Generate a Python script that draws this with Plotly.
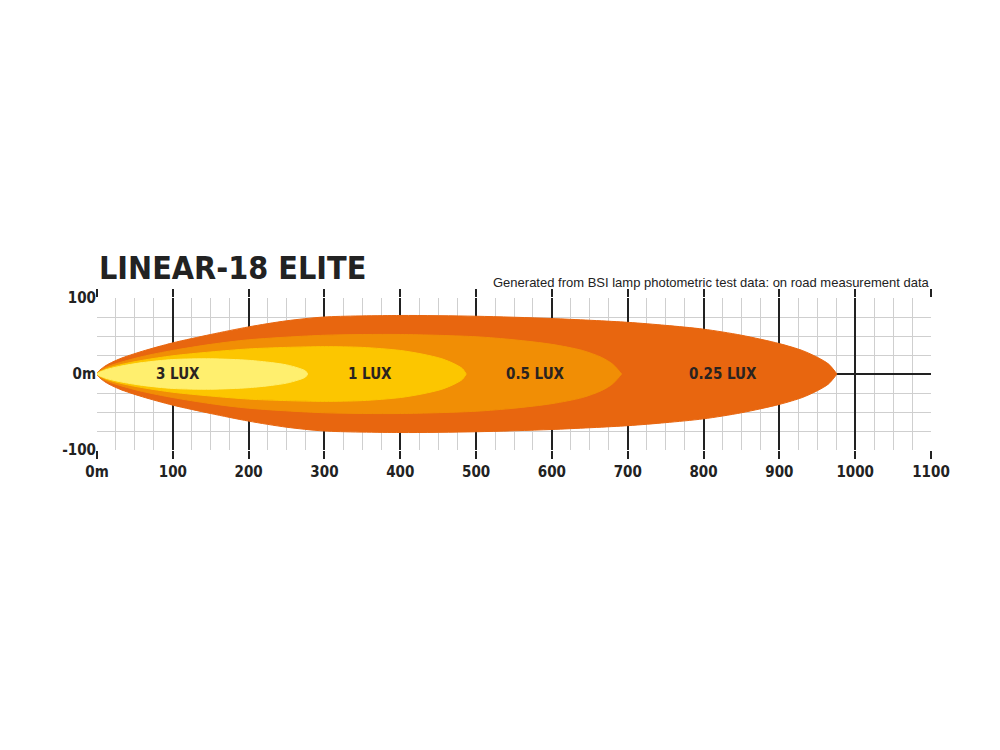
import plotly.graph_objects as go

# upper half-width of each lux contour (beam is symmetric about 0)
lux_names = ['0.25 LUX', '0.5 LUX', '1 LUX', '3 LUX']
x_025 = [0, 10, 30, 60, 100, 150, 200, 250, 300, 400, 500, 600, 700, 750, 800, 850, 900, 930, 950, 965, 976]
y_025 = [0, 10, 20, 30, 41, 52, 62, 70, 75, 77, 76, 73, 68, 64, 59, 51, 40, 31, 22, 13, 0]
x_05 = [0, 10, 30, 60, 100, 150, 200, 300, 400, 500, 550, 600, 640, 665, 680, 692]
y_05 = [0, 8, 15, 23, 31, 39, 45, 51, 52, 49, 45, 39, 31, 22, 13, 0]
x_1 = [0, 10, 30, 60, 100, 150, 200, 250, 300, 350, 400, 430, 455, 472, 482, 487]
y_1 = [0, 6, 12, 18, 24, 29, 33, 35, 36, 35, 31, 26, 20, 13, 7, 0]
x_3 = [0, 10, 30, 60, 100, 150, 200, 230, 250, 265, 275, 278]
y_3 = [0, 5, 10, 15, 19, 20, 18, 15, 12, 8, 4, 0]
label_x = [826, 579, 360, 107]

colors = ['#E8660F', '#F18E05', '#FCC600', '#FFEF6E']
xs = [x_025, x_05, x_1, x_3]
ys = [y_025, y_05, y_1, y_3]

COND = 'DejaVu Sans Condensed, Roboto Condensed, Liberation Sans Narrow, Arial Narrow, DejaVu Sans, sans-serif'

fig = go.Figure()
for name, x, y, c in zip(lux_names, xs, ys, colors):
    px_ = x + x[::-1]
    py_ = y + [-v for v in y[::-1]]
    fig.add_trace(go.Scatter(x=px_, y=py_, fill='toself', fillcolor=c, mode='lines',
                             line=dict(color=c, width=1, shape='spline', smoothing=0.8), name=name,
                             hoverinfo='name'))

for name, lx in zip(lux_names, label_x):
    fig.add_annotation(x=lx, y=0, text='<b>' + name + '</b>', showarrow=False,
                       font=dict(family=COND, size=15, color='#2a2320'))

x_ticks = list(range(0, 1101, 100))
x_text = ['<b>0m</b>'] + ['<b>%d</b>' % v for v in x_ticks[1:]]

fig.update_xaxes(range=[0, 1100], tickvals=x_ticks, ticktext=x_text,
                 showgrid=True, gridcolor='#222', gridwidth=2,
                 minor=dict(dtick=25, showgrid=True, gridcolor='#cfcfcf', gridwidth=1),
                 ticks='outside', ticklen=8, tickwidth=2, tickcolor='#222', mirror='ticks',
                 showline=False, zeroline=False,
                 tickfont=dict(family=COND, size=15, color='#222'))
fig.update_yaxes(range=[-100, 100], tickvals=[100, 0, -100],
                 ticktext=['<b>100</b>', '<b>0m</b>', '<b>-100</b>'],
                 showgrid=True, gridcolor='#cfcfcf', gridwidth=1,
                 minor=dict(dtick=25, showgrid=True, gridcolor='#cfcfcf', gridwidth=1),
                 zeroline=True, zerolinecolor='#222', zerolinewidth=2,
                 ticks='', showline=False,
                 tickfont=dict(family=COND, size=15, color='#222'))

fig.add_annotation(x=0, y=1.06, xref='x', yref='paper', xanchor='left', yanchor='bottom',
                   text='<b>LINEAR-18 ELITE</b>', showarrow=False,
                   font=dict(family=COND, size=32, color='#222'))
fig.add_annotation(x=1, y=1.04, xref='paper', yref='paper', xanchor='right', yanchor='bottom',
                   text='Generated from BSI lamp photometric test data: on road measurement data',
                   showarrow=False, font=dict(family='Liberation Sans', size=13, color='#222'))

fig.update_layout(width=1000, height=750, showlegend=False,
                  plot_bgcolor='white', paper_bgcolor='white',
                  margin=dict(l=89, r=77, t=290, b=308))
fig.write_html('out.html')
